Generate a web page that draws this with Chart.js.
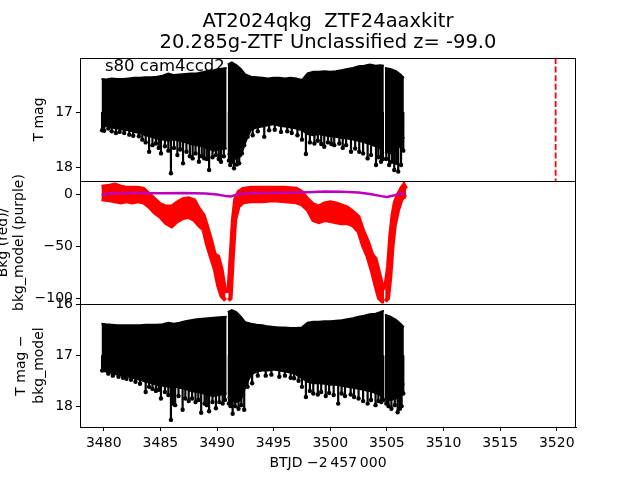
<!DOCTYPE html>
<html>
<head>
<meta charset="utf-8">
<script src="https://cdn.jsdelivr.net/npm/chart.js@4.4.1/dist/chart.umd.min.js"></script>
<style>
  body { margin: 0; background: #fff; }
  #wrap { position: relative; width: 640px; height: 480px; }
  #wrap canvas { position: absolute; left: 0; top: 0; }
</style>
</head>
<body>
<div id="wrap">
  <canvas id="p1" width="640" height="480"></canvas>
  <canvas id="p2" width="640" height="480"></canvas>
  <canvas id="p3" width="640" height="480"></canvas>
</div>
<script>
// axis ranges and ticks
const xMin = 3477.9, xMax = 3521.7;
const xTicks = [3480, 3485, 3490, 3495, 3500, 3505, 3510, 3515, 3520];
const magRange1 = [16.02, 18.25];
const magTicks1 = [17, 18];
const bkgRange = [-105.5, 12.5];
const bkgTicks = [0, -50, -100];
const magRange3 = [15.99, 18.41];
const magTicks3 = [16, 17, 18];
const markerTime = 3519.9;
const spikeFrom = 17.0;

// light curve body: time, bright edge, faint edge (null = gap)
const bodyT = [3479.8, 3480.2, 3480.7, 3481.2, 3481.7, 3482.2, 3482.7, 3483.2, 3483.7, 3484.2,
  3484.7, 3485.2, 3485.7, 3486.2, 3486.7, 3487.2, 3487.7, 3488.2, 3488.7, 3489.2,
  3489.7, 3490.2, 3490.85, 3490.9, 3490.95, 3491.3, 3491.7, 3492.1, 3492.5, 3493.0,
  3493.5, 3494.0, 3494.5, 3495.0, 3495.5, 3496.0, 3496.5, 3497.0, 3497.5, 3498.0,
  3498.5, 3499.0, 3499.5, 3500.0, 3500.5, 3501.0, 3501.5, 3502.0, 3502.5, 3503.0,
  3503.5, 3504.0, 3504.4, 3504.73, 3504.78, 3504.83, 3505.3, 3505.8, 3506.2, 3506.5];
const magHi = [16.40, 16.41, 16.39, 16.40, 16.40, 16.39, 16.38, 16.38, 16.37, 16.37,
  16.36, 16.34, 16.30, 16.33, 16.32, 16.31, 16.30, 16.30, 16.28, 16.25,
  16.24, 16.22, 16.20, null, 16.14, 16.10, 16.15, 16.22, 16.32, 16.36,
  16.37, 16.38, 16.39, 16.38, 16.38, 16.39, 16.38, 16.39, 16.42, 16.30,
  16.27, 16.27, 16.26, 16.27, 16.26, 16.24, 16.22, 16.20, 16.17, 16.16,
  16.14, 16.16, 16.15, 16.16, null, 16.20, 16.22, 16.26, 16.32, 16.38];
const magLo = [17.30, 17.25, 17.28, 17.30, 17.32, 17.33, 17.36, 17.38, 17.42, 17.45,
  17.48, 17.50, 17.52, 17.50, 17.52, 17.55, 17.58, 17.60, 17.62, 17.66,
  17.70, 17.68, 17.66, null, 17.75, 17.82, 17.85, 17.80, 17.55, 17.32,
  17.28, 17.26, 17.24, 17.22, 17.25, 17.26, 17.28, 17.30, 17.33, 17.40,
  17.42, 17.40, 17.42, 17.44, 17.45, 17.47, 17.48, 17.50, 17.52, 17.55,
  17.58, 17.62, 17.66, 17.70, null, 17.72, 17.75, 17.70, 17.60, 17.45];
const spikeT = [3479.85, 3480.03, 3480.4, 3480.7, 3481.07, 3481.4, 3481.8, 3482.25, 3482.6, 3483.1,
  3483.4, 3483.7, 3484.0, 3484.3, 3484.6, 3484.85, 3485.05, 3485.4, 3485.7, 3485.93,
  3486.2, 3486.5, 3486.75, 3487.0, 3487.3, 3487.6, 3487.85, 3488.1, 3488.4, 3488.65,
  3488.87, 3489.1, 3489.3, 3489.6, 3489.9, 3490.15, 3490.35, 3490.6, 3491.05, 3491.17,
  3491.35, 3491.5, 3491.75, 3491.96, 3492.2, 3492.4, 3492.7, 3493.15, 3493.6, 3494.17,
  3494.6, 3495.1, 3495.65, 3496.2, 3496.6, 3497.1, 3497.5, 3497.85, 3498.2, 3498.6,
  3498.9, 3499.2, 3499.47, 3499.8, 3500.1, 3500.35, 3500.8, 3501.1, 3501.4, 3501.83,
  3502.2, 3502.56, 3502.9, 3503.3, 3503.6, 3504.04, 3504.25, 3504.48, 3504.65, 3504.95,
  3505.2, 3505.45, 3505.65, 3505.85, 3506.0, 3506.25, 3506.45];
const spikeLo = [17.33, 17.34, 17.30, 17.35, 17.38, 17.36, 17.38, 17.41, 17.43, 17.44,
  17.50, 17.55, 17.72, 17.60, 17.57, 17.65, 17.75, 17.62, 17.70, 18.11,
  17.65, 17.78, 17.68, 17.93, 17.72, 17.80, 17.84, 17.75, 17.90, 17.80,
  17.84, 17.85, 18.05, 17.82, 17.78, 17.85, 17.90, 17.80, 17.88, 17.96,
  17.90, 18.02, 17.95, 17.93, 17.75, 17.60, 17.45, 17.42, 17.35, 17.45,
  17.33, 17.32, 17.36, 17.35, 17.38, 17.42, 17.50, 17.76, 17.55, 17.57,
  17.52, 17.58, 17.63, 17.55, 17.58, 17.60, 17.57, 17.65, 17.60, 17.72,
  17.66, 17.72, 17.75, 17.84, 17.78, 17.96, 17.82, 17.90, 17.85, 17.85,
  17.96, 17.90, 18.05, 17.92, 18.08, 17.96, 17.70];

// background-subtracted light curve (same time grid)
const diffHi = [16.38, 16.39, 16.40, 16.41, 16.41, 16.41, 16.41, 16.41, 16.40, 16.40,
  16.40, 16.39, 16.36, 16.38, 16.36, 16.33, 16.31, 16.29, 16.28, 16.27,
  16.26, 16.25, 16.24, null, 16.15, 16.11, 16.15, 16.24, 16.35, 16.38,
  16.40, 16.41, 16.43, 16.44, 16.45, 16.45, 16.46, 16.46, 16.45, 16.36,
  16.34, 16.34, 16.33, 16.33, 16.32, 16.31, 16.29, 16.27, 16.24, 16.22,
  16.19, 16.18, 16.15, 16.12, null, 16.20, 16.24, 16.30, 16.38, 16.45];
const diffLo = [17.30, 17.32, 17.35, 17.38, 17.40, 17.42, 17.45, 17.48, 17.52, 17.55,
  17.58, 17.60, 17.62, 17.62, 17.64, 17.66, 17.70, 17.72, 17.74, 17.78,
  17.80, 17.78, 17.75, null, 17.82, 17.88, 17.92, 17.88, 17.62, 17.38,
  17.32, 17.30, 17.30, 17.28, 17.30, 17.32, 17.34, 17.38, 17.45, 17.52,
  17.55, 17.55, 17.56, 17.58, 17.58, 17.60, 17.62, 17.64, 17.66, 17.68,
  17.70, 17.74, 17.78, 17.82, null, 17.85, 17.88, 17.85, 17.75, 17.55];
const diffSpikeT = [3479.85, 3480.0, 3480.4, 3480.8, 3481.3, 3481.7, 3482.0, 3482.4, 3482.8, 3483.2,
  3483.7, 3484.0, 3484.3, 3484.6, 3484.85, 3485.05, 3485.4, 3485.7, 3485.93, 3486.1,
  3486.3, 3486.6, 3486.96, 3487.2, 3487.5, 3487.8, 3488.1, 3488.35, 3488.6, 3488.9,
  3489.1, 3489.3, 3489.6, 3489.9, 3490.2, 3490.5, 3490.7, 3491.05, 3491.2, 3491.38,
  3491.6, 3491.9, 3492.15, 3492.4, 3492.7, 3493.1, 3493.6, 3494.3, 3494.8, 3495.5,
  3496.0, 3496.5, 3496.8, 3497.2, 3497.5, 3497.85, 3498.2, 3498.5, 3498.9, 3499.2,
  3499.6, 3499.9, 3500.3, 3500.7, 3501.0, 3501.3, 3501.8, 3502.1, 3502.5, 3502.9,
  3503.3, 3503.6, 3504.0, 3504.25, 3504.5, 3504.68, 3504.95, 3505.15, 3505.4, 3505.7,
  3505.95, 3506.15, 3506.3, 3506.45];
const diffSpikeLo = [17.30, 17.29, 17.36, 17.40, 17.42, 17.44, 17.46, 17.48, 17.52, 17.56,
  17.72, 17.62, 17.66, 17.70, 17.68, 17.85, 17.72, 17.78, 18.27, 17.95,
  17.98, 17.80, 18.07, 17.85, 17.90, 17.85, 17.92, 17.88, 18.13, 17.95,
  17.98, 18.10, 17.92, 18.04, 17.92, 17.95, 17.88, 17.95, 18.00, 18.15,
  18.00, 18.05, 17.98, 18.07, 17.62, 17.55, 17.40, 17.40, 17.38, 17.42,
  17.40, 17.44, 17.45, 17.50, 17.62, 17.82, 17.70, 17.75, 17.77, 17.72,
  17.80, 17.74, 17.78, 17.95, 17.75, 17.80, 17.77, 17.82, 17.85, 17.90,
  17.95, 17.88, 17.98, 17.90, 17.92, 17.88, 17.95, 18.00, 18.05, 17.98,
  18.12, 18.05, 18.00, 17.75];

// background flux band (red) and background model (purple)
const bkgT = [3479.8, 3480.5, 3481.0, 3481.5, 3482.0, 3482.5, 3483.0, 3483.5, 3484.0, 3484.5,
  3485.0, 3485.5, 3486.0, 3486.5, 3487.0, 3487.5, 3488.0, 3488.4, 3488.8, 3489.1,
  3489.5, 3489.8, 3490.1, 3490.4, 3490.75, 3490.88, 3491.0, 3491.2, 3491.4, 3491.6,
  3491.9, 3492.3, 3493.0, 3494.0, 3495.0, 3496.0, 3497.0, 3497.5, 3498.0, 3498.5,
  3499.0, 3499.5, 3500.0, 3500.5, 3501.0, 3501.5, 3502.0, 3502.5, 3502.9, 3503.3,
  3503.7, 3504.0, 3504.3, 3504.6, 3504.75, 3504.8, 3504.85, 3505.1, 3505.3, 3505.5,
  3505.7, 3506.0, 3506.3, 3506.5, 3506.7];
const bkgHi = [7, 8, 9, 7, 6, 6, 6, 5, 0, -5,
  -10, -12, -12, -8, -5, -4, -6, -14, -20, -30,
  -45, -58, -60, -72, -95, null, -95, -60, -25, -5,
  2, 5, 6, 6, 6, 6, 5, 2, -5, -10,
  -12, -9, -8, -9, -11, -13, -17, -22, -35, -45,
  -58, -62, -75, -88, -92, null, -90, -70, -40, -20,
  -8, 0, 6, 9, 5];
const bkgLo = [-5, -6, -7, -8, -7, -8, -7, -8, -12, -18,
  -22, -28, -31, -26, -23, -22, -25, -30, -34, -48,
  -62, -72, -88, -98, -102, null, -102, -100, -60, -25,
  -12, -8, -7, -7, -6, -7, -8, -10, -15, -25,
  -27, -25, -26, -27, -28, -28, -30, -36, -50, -60,
  -75, -88, -100, -103, -103, null, -103, -100, -80, -50,
  -30, -15, -5, -2, -3];
const modelT = [3479.8, 3480.5, 3481.5, 3483.0, 3485.0, 3487.0, 3489.0, 3490.0, 3490.8, 3491.2,
  3491.8, 3492.5, 3494.0, 3496.0, 3498.0, 3499.5, 3501.0, 3502.5, 3503.5, 3504.5,
  3505.0, 3505.6, 3506.0, 3506.6];
const modelV = [-1, 0.5, 1, 1, 0.8, 1, 0.5, -0.5, -2, -2.3,
  -0.5, 0.8, 1, 1.2, 1.8, 2.5, 2.2, 1.5, 0, -2,
  -2.8, -1.5, 0, 0.8];

const FONT = 'DejaVu Sans';
Chart.defaults.font.family = FONT;
Chart.defaults.color = '#000';
Chart.defaults.animation = false;

const pts = (xs, ys) => xs.map((x, i) => ({ x: x, y: ys[i] }));

function spikes(xs, lows) {
  const out = [];
  xs.forEach((x, i) => {
    out.push({ x: x, y: spikeFrom }, { x: x, y: lows[i] }, { x: x, y: null });
  });
  return out;
}

function fmt(v) {
  return v < 0 ? '\u2212' + Math.abs(v) : String(v);
}

function yAxis(range, ticks, reverse) {
  return {
    type: 'linear', min: range[0], max: range[1], reverse: reverse,
    afterFit(scale) { scale.width = 80; },
    afterBuildTicks(scale) { scale.ticks = ticks.map(v => ({ value: v })); },
    grid: { display: true, drawOnChartArea: false, drawTicks: true, tickLength: 4, color: '#000' },
    border: { display: true, color: '#000' },
    ticks: { font: { size: 14 }, padding: 3, callback: fmt }
  };
}

function xAxis(show) {
  const ax = {
    type: 'linear', min: xMin, max: xMax, offset: false, display: show,
    afterBuildTicks(scale) { scale.ticks = xTicks.map(v => ({ value: v })); },
    grid: { display: true, drawOnChartArea: false, drawTicks: true, tickLength: 4, color: '#000' },
    border: { display: true, color: '#000' },
    ticks: { font: { size: 14 }, padding: 4, callback: fmt, maxRotation: 0 }
  };
  if (show) ax.afterFit = scale => { scale.height = 53; };
  return ax;
}

// frame + free text drawn on the canvas
function decor(items) {
  return {
    id: 'decor',
    afterDraw(chart) {
      const ctx = chart.ctx, a = chart.chartArea;
      ctx.save();
      ctx.strokeStyle = '#000';
      ctx.lineWidth = 1;
      ctx.strokeRect(Math.round(a.left) + 0.5, Math.round(a.top) + 0.5,
        Math.round(a.right - a.left) - 1, Math.round(a.bottom - a.top));
      ctx.fillStyle = '#000';
      items.forEach(t => {
        ctx.save();
        ctx.translate(t.x, t.y);
        if (t.rot) ctx.rotate(-Math.PI / 2);
        ctx.font = t.size + 'px "' + FONT + '"';
        ctx.textAlign = t.align || 'center';
        ctx.textBaseline = t.base || 'middle';
        ctx.fillText(t.text, 0, 0);
        ctx.restore();
      });
      ctx.restore();
    }
  };
}

const common = {
  responsive: false,
  events: [],
  plugins: { legend: { display: false }, tooltip: { enabled: false } },
  elements: { point: { radius: 0 }, line: { tension: 0 } }
};

function lightCurve(hi, lo, sT, sLo) {
  return [
    { data: spikes(sT, sLo), borderColor: '#000', borderWidth: 2.2, spanGaps: false },
    { data: pts(sT, sLo), showLine: false, pointRadius: 2.2, pointBackgroundColor: '#000', pointBorderWidth: 0 },
    { data: pts(bodyT, hi), borderColor: '#000', borderWidth: 2, fill: false, spanGaps: false },
    { data: pts(bodyT, lo), borderColor: '#000', borderWidth: 2, backgroundColor: '#000', fill: '-1', spanGaps: false }
  ];
}

// panel 1: T mag
const set1 = lightCurve(magHi, magLo, spikeT, spikeLo);
set1.unshift({
  data: [{ x: markerTime, y: magRange1[0] }, { x: markerTime, y: magRange1[1] }],
  borderColor: '#ff0000', borderWidth: 1.8, borderDash: [6, 2.6]
});
new Chart(document.getElementById('p1'), {
  type: 'line',
  data: { datasets: set1 },
  options: Object.assign({}, common, {
    layout: { padding: { left: 0, right: 64, top: 58, bottom: 299 } },
    scales: { x: xAxis(false), y: yAxis(magRange1, magTicks1, true) }
  }),
  plugins: [decor([
    { text: 'AT2024qkg  ZTF24aaxkitr', x: 328, y: 21.5, size: 19.5 },
    { text: '20.285g-ZTF Unclassified z= -99.0', x: 328, y: 43, size: 19.5 },
    { text: 's80 cam4ccd2', x: 105, y: 71, size: 16.5, align: 'left', base: 'alphabetic' },
    { text: 'T mag', x: 39, y: 119.5, size: 14, rot: true }
  ])]
});

// panel 2: background
new Chart(document.getElementById('p2'), {
  type: 'line',
  data: {
    datasets: [
      { data: pts(modelT, modelV), borderColor: '#bf00bf', borderWidth: 2.5 },
      { data: pts(bkgT, bkgHi), borderColor: '#ff0000', borderWidth: 4, fill: false, spanGaps: false },
      { data: pts(bkgT, bkgLo), borderColor: '#ff0000', borderWidth: 4, backgroundColor: '#ff0000', fill: '-1', spanGaps: false }
    ]
  },
  options: Object.assign({}, common, {
    layout: { padding: { left: 0, right: 64, top: 181, bottom: 176 } },
    scales: { x: xAxis(false), y: yAxis(bkgRange, bkgTicks, false) }
  }),
  plugins: [decor([
    { text: 'Bkg (red)/', x: 3, y: 242.5, size: 14, rot: true },
    { text: 'bkg_model (purple)', x: 19.5, y: 242.5, size: 14, rot: true }
  ])]
});

// panel 3: T mag - bkg_model
new Chart(document.getElementById('p3'), {
  type: 'line',
  data: { datasets: lightCurve(diffHi, diffLo, diffSpikeT, diffSpikeLo) },
  options: Object.assign({}, common, {
    layout: { padding: { left: 0, right: 64, top: 304, bottom: 0 } },
    scales: { x: xAxis(true), y: yAxis(magRange3, magTicks3, true) }
  }),
  plugins: [decor([
    { text: 'T mag \u2212', x: 21.5, y: 365.5, size: 14, rot: true },
    { text: 'bkg_model', x: 39.5, y: 365.5, size: 14, rot: true },
    { text: 'BTJD \u22122\u2009457\u2009000', x: 328, y: 463.5, size: 14 }
  ])]
});
</script>
</body>
</html>
